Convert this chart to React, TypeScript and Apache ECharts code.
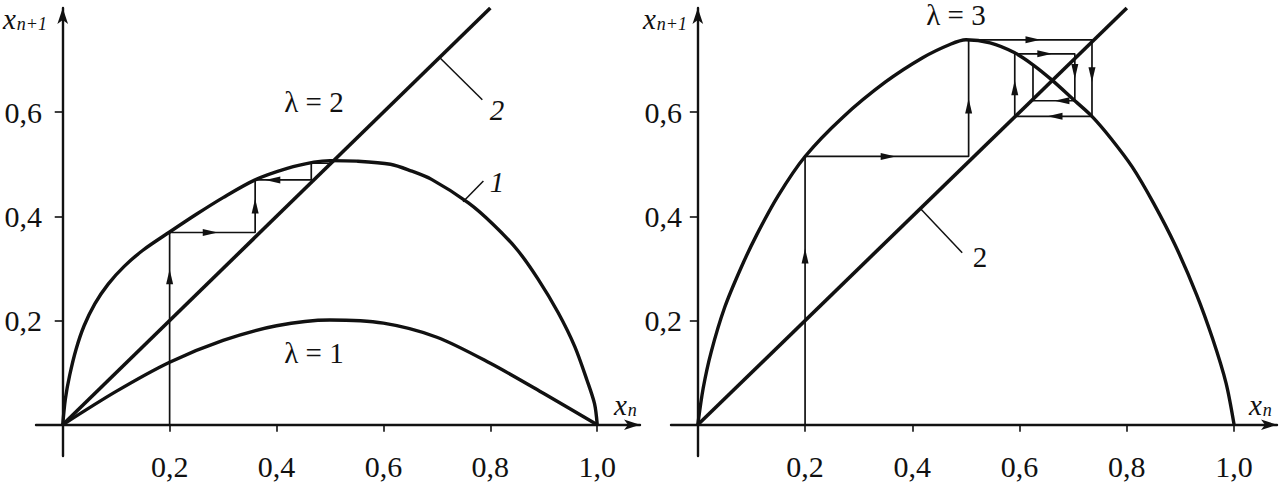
import React, { useEffect, useRef } from "react";
import * as echarts from "echarts";

// ---- data ----
const xTicks = [0.2, 0.4, 0.6, 0.8, 1.0];
const yTicks = [0.2, 0.4, 0.6];

// left panel, lambda = 1
const lam1X = [0, 0.1, 0.2, 0.3, 0.4, 0.5, 0.6, 0.7, 0.8, 0.9, 1.0];
const lam1Y = [0, 0.064, 0.12, 0.162, 0.19, 0.201, 0.195, 0.168, 0.118, 0.06, 0];

// left panel, lambda = 2
const lam2X = [0, 0.005, 0.013, 0.025, 0.04, 0.06, 0.085, 0.115, 0.15, 0.2, 0.25, 0.3, 0.36, 0.42, 0.47, 0.5, 0.55, 0.613, 0.65, 0.69, 0.759, 0.805, 0.851, 0.889, 0.927, 0.958, 0.981, 0.995, 1.0];
const lam2Y = [0, 0.05, 0.095, 0.145, 0.19, 0.232, 0.27, 0.304, 0.335, 0.37, 0.404, 0.436, 0.47, 0.492, 0.504, 0.507, 0.506, 0.5, 0.488, 0.471, 0.426, 0.385, 0.335, 0.28, 0.215, 0.15, 0.085, 0.04, 0];

// right panel, lambda = 3
const lam3X = [0, 0.01, 0.025, 0.05, 0.08, 0.11, 0.15, 0.2, 0.27, 0.35, 0.42, 0.47, 0.5, 0.545, 0.591, 0.625, 0.66, 0.703, 0.735, 0.77, 0.81, 0.85, 0.89, 0.93, 0.96, 0.985, 1.0];
const lam3Y = [0, 0.07, 0.14, 0.225, 0.3, 0.365, 0.44, 0.515, 0.59, 0.658, 0.705, 0.73, 0.739, 0.733, 0.714, 0.691, 0.662, 0.622, 0.592, 0.55, 0.495, 0.425, 0.345, 0.25, 0.165, 0.08, 0];

// bisector x(n+1) = x(n)
const diagLeft = [0, 0.8];
const diagRight = [0, 0.8];

// cobweb paths
const webLeftX = [0.2, 0.2, 0.36, 0.36, 0.465, 0.465, 0.5];
const webLeftY = [0, 0.369, 0.369, 0.47, 0.47, 0.502, 0.502];
const webRightX = [0.2, 0.2, 0.505, 0.505, 0.735, 0.735, 0.591, 0.591, 0.703, 0.703, 0.625, 0.625];
const webRightY = [0, 0.515, 0.515, 0.739, 0.739, 0.592, 0.592, 0.712, 0.712, 0.622, 0.622, 0.691];

// arrows: x, y, direction
const arrowsLeft: [number, number, string][] = [
  [0.2, 0.284, "up"],
  [0.276, 0.369, "right"],
  [0.36, 0.42, "up"],
  [0.393, 0.47, "left"],
];
const arrowsRight: [number, number, string][] = [
  [0.2, 0.324, "up"],
  [0.355, 0.515, "right"],
  [0.505, 0.612, "up"],
  [0.625, 0.739, "right"],
  [0.735, 0.672, "down"],
  [0.666, 0.592, "left"],
  [0.591, 0.647, "up"],
  [0.647, 0.712, "right"],
  [0.703, 0.678, "down"],
  [0.679, 0.622, "left"],
];

// leader lines for curve numbers
const leaderLeft2X = [0.706, 0.785];
const leaderLeft2Y = [0.704, 0.624];
const leaderLeft1X = [0.749, 0.787];
const leaderLeft1Y = [0.428, 0.468];
const leaderRight2X = [0.415, 0.493];
const leaderRight2Y = [0.415, 0.33];

const FONT = "Liberation Serif, Times New Roman, serif";
const INK = "#111";

const zip = (xs: number[], ys: number[]) => xs.map((x, i) => [x, ys[i]]);
const rot: Record<string, number> = { up: 0, down: 180, left: 90, right: -90 };

export default function App() {
  const ref = useRef<HTMLDivElement>(null);

  useEffect(() => {
    if (!ref.current) return;
    const chart = echarts.init(ref.current, null, { renderer: "svg" });

    const fmt = (v: number) => v.toFixed(1).replace(".", ",");

    const makeX = (gi: number) => ({
      type: "value",
      gridIndex: gi,
      min: -0.05,
      max: 1.08,
      splitLine: { show: false },
      axisLine: {
        show: true,
        onZero: true,
        symbol: ["none", "arrow"],
        symbolSize: [8, 16],
        lineStyle: { color: INK, width: 2.4 },
      },
      axisTick: {
        show: true,
        customValues: xTicks,
        length: 7,
        lineStyle: { color: INK, width: 1.6 },
      },
      axisLabel: {
        show: true,
        customValues: xTicks,
        formatter: fmt,
        margin: -5,
        color: INK,
        fontFamily: FONT,
        fontSize: 30,
      },
    });
    const makeY = (gi: number, margin: number) => ({
      type: "value",
      gridIndex: gi,
      min: -0.06,
      max: 0.8,
      splitLine: { show: false },
      axisLine: {
        show: true,
        onZero: true,
        symbol: ["none", "arrow"],
        symbolSize: [8, 16],
        lineStyle: { color: INK, width: 2.4 },
      },
      axisTick: {
        show: true,
        customValues: yTicks,
        length: 8,
        lineStyle: { color: INK, width: 1.6 },
      },
      axisLabel: {
        show: true,
        customValues: yTicks,
        formatter: fmt,
        margin,
        color: INK,
        fontFamily: FONT,
        fontSize: 30,
      },
    });

    const curve = (xs: number[], ys: number[], gi: number, width: number, smooth: number | boolean) => ({
      type: "line",
      xAxisIndex: gi,
      yAxisIndex: gi,
      data: zip(xs, ys),
      showSymbol: false,
      smooth,
      lineStyle: { color: INK, width },
      silent: true,
    });

    const arrows = (list: [number, number, string][], gi: number) => ({
      type: "scatter",
      xAxisIndex: gi,
      yAxisIndex: gi,
      symbol: "triangle",
      symbolSize: [7, 15],
      itemStyle: { color: INK, opacity: 1 },
      data: list.map((a) => ({ value: [a[0], a[1]], symbolRotate: rot[a[2]] })),
      silent: true,
      z: 5,
    });

    const subText = (x: number, y: number, s: string) => ({
      type: "text",
      left: x,
      top: y,
      style: {
        text: "{a|x}{b|" + s + "}",
        fill: INK,
        rich: {
          a: { fontSize: 29, fontStyle: "italic", fontFamily: FONT, fill: INK, lineHeight: 28, verticalAlign: "bottom" },
          b: { fontSize: 18, fontStyle: "italic", fontFamily: FONT, fill: INK, lineHeight: 10, verticalAlign: "bottom", padding: [0, 0, 0, 1] },
        },
      },
    });
    const label = (text: string, x: number, y: number, italic = false, size = 29) => ({
      type: "text",
      x,
      y,
      style: {
        text,
        fill: INK,
        fontFamily: FONT,
        fontSize: size,
        fontStyle: italic ? "italic" : "normal",
        align: "center",
        verticalAlign: "middle",
      },
    });

    chart.setOption({
      animation: false,
      backgroundColor: "#fff",
      grid: [
        { left: 36, top: 8, width: 604, height: 448, outerBoundsMode: "none", containLabel: false },
        { left: 671, top: 8, width: 606, height: 448, outerBoundsMode: "none", containLabel: false },
      ],
      xAxis: [makeX(0), makeX(1)],
      yAxis: [makeY(0, -6), makeY(1, -11)],
      series: [
        curve(lam1X, lam1Y, 0, 3.4, 0.3),
        curve(lam2X, lam2Y, 0, 3.4, 0.3),
        curve(diagLeft, diagLeft, 0, 3.6, false),
        curve(webLeftX, webLeftY, 0, 1.7, false),
        curve(leaderLeft2X, leaderLeft2Y, 0, 1.5, false),
        curve(leaderLeft1X, leaderLeft1Y, 0, 1.5, false),
        arrows(arrowsLeft, 0),
        curve(lam3X, lam3Y, 1, 3.4, 0.3),
        curve(diagRight, diagRight, 1, 3.6, false),
        curve(webRightX, webRightY, 1, 1.7, false),
        curve(leaderRight2X, leaderRight2Y, 1, 1.5, false),
        arrows(arrowsRight, 1),
      ],
      graphic: [
        subText(3, 4, "n+1"),
        subText(643, 4, "n+1"),
        subText(614, 390, "n"),
        subText(1249, 390, "n"),
        label("λ = 2", 314, 102),
        label("λ = 1", 314, 353),
        label("λ = 3", 956, 15),
        label("2", 497, 110, true),
        label("1", 497, 182, true),
        label("2", 980, 257, false),
      ],
    });

    return () => chart.dispose();
  }, []);

  return (
    <div
      ref={ref}
      style={{ position: "fixed", left: 0, top: 0, width: 1279, height: 485, background: "#fff" }}
    />
  );
}
